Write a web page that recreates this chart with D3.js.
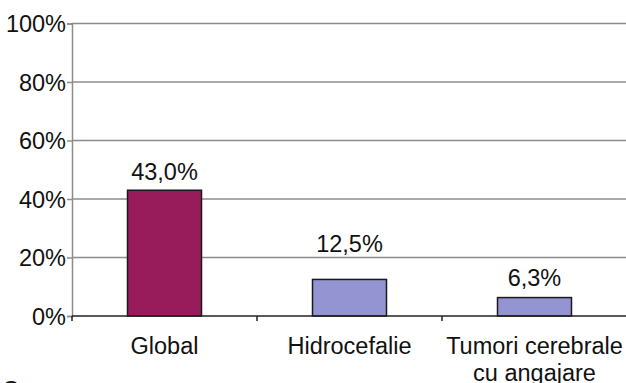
<!DOCTYPE html>
<html><head><meta charset="utf-8">
<script src="https://cdn.jsdelivr.net/npm/d3@7"></script>
<style>body{margin:0;background:#fff}svg{display:block}text{font-family:"Liberation Sans",Arial,sans-serif;fill:#111}</style>
</head><body><svg id="c" width="626" height="383"></svg>
<script>
const categories = [["Global"], ["Hidrocefalie"], ["Tumori cerebrale", "cu angajare"]];
const values = [43.0, 12.5, 6.3];
const valueLabels = ["43,0%", "12,5%", "6,3%"];
const yTicks = [0, 20, 40, 60, 80, 100];
const barColors = ["#981c5c", "#9494d2", "#9494d2"];

const labelLift = [10, 27, 12];
(function () {
const svg = d3.select("#c");
const FS = 23.5;
const mLeft = 72, mRight = 627, mTop = 23.5, mBottom = 316;
const x = d3.scaleBand().domain(d3.range(values.length)).range([mLeft, mRight]).padding(0);
const y = d3.scaleLinear().domain([0, 100]).range([mBottom, mTop]);

// grid
svg.append("g").selectAll("line").data(yTicks.filter(d => d > 0)).join("line")
  .attr("x1", mLeft).attr("x2", 626).attr("y1", d => y(d)).attr("y2", d => y(d))
  .attr("stroke", "#8c8c8c").attr("stroke-width", 1.5);

// y axis
const ya = svg.append("g").attr("transform", `translate(${mLeft},0)`)
  .call(d3.axisLeft(y).tickValues(yTicks).tickFormat(d => d + "%").tickSize(5).tickPadding(1));
ya.select(".domain").attr("stroke", "#8c8c8c").attr("stroke-width", 1.5);
ya.selectAll(".tick line").attr("stroke", "#8c8c8c").attr("stroke-width", 1.5);
ya.selectAll(".tick text").attr("font-size", FS).attr("fill", "#111").attr("dy", "0.36em")
  .style("font-family", "'Liberation Sans', Arial, sans-serif");

// bars
const bw = x.bandwidth() * 0.4;
svg.append("g").selectAll("rect").data(values).join("rect")
  .attr("x", (d, i) => x(i) + x.bandwidth() * 0.3)
  .attr("width", bw)
  .attr("y", d => y(d)).attr("height", d => y(0) - y(d))
  .attr("fill", (d, i) => barColors[i]).attr("stroke", "#1a1a1a").attr("stroke-width", 1.5);

// x axis
const xa = svg.append("g").attr("transform", `translate(0,${mBottom})`);
xa.append("line").attr("x1", mLeft).attr("x2", 626).attr("y1", 0).attr("y2", 0)
  .attr("stroke", "#222").attr("stroke-width", 1.5);
xa.selectAll("line.t").data(d3.range(values.length + 1)).join("line").attr("class", "t")
  .attr("x1", i => mLeft + i * x.step()).attr("x2", i => mLeft + i * x.step())
  .attr("y1", 0).attr("y2", 5).attr("stroke", "#222").attr("stroke-width", 1.5);
xa.selectAll("text").data(categories).join("text")
  .attr("text-anchor", "middle").attr("font-size", FS)
  .attr("transform", (d, i) => `translate(${x(i) + x.bandwidth() / 2},38)`)
  .selectAll("tspan").data(d => d).join("tspan")
  .attr("x", 0).attr("dy", (d, j) => j ? 27 : 0).text(d => d);

// value labels
svg.append("g").selectAll("text").data(values).join("text")
  .attr("text-anchor", "middle").attr("font-size", FS)
  .attr("x", (d, i) => x(i) + x.bandwidth() / 2)
  .attr("y", (d, i) => y(d) - labelLift[i])
  .text((d, i) => valueLabels[i]);

// partially cut glyph at bottom-left
svg.append("text").attr("x", 2).attr("y", 398).attr("font-size", FS).text("C");
})();
</script></body></html>
